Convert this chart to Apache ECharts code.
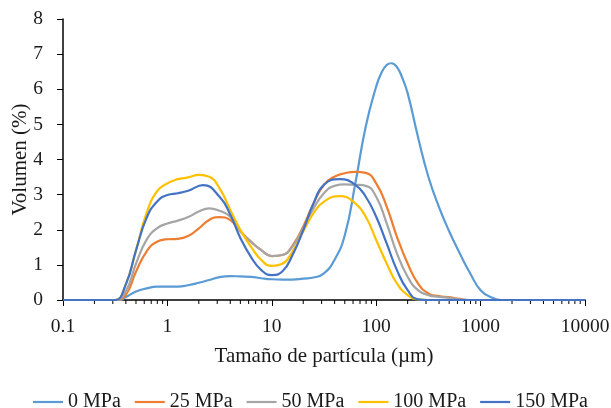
<!DOCTYPE html>
<html>
<head>
<meta charset="utf-8">
<script src="https://cdn.jsdelivr.net/npm/echarts@6/dist/echarts.min.js"></script>
<style>
html,body{margin:0;padding:0;background:#fff;}
#chart{width:611px;height:408px;}
</style>
</head>
<body>
<div id="chart"></div>
<script>
const seriesNames = ['0 MPa', '25 MPa', '50 MPa', '100 MPa', '150 MPa'];
const seriesColors = ['#5B9BD5', '#ED7D31', '#A5A5A5', '#FFC000', '#4472C4'];
const xTickLabels = ['0.1', '1', '10', '100', '1000', '10000'];
const yTickLabels = ['0','1','2','3','4','5','6','7','8'];

// particle sizes (µm) and volume (%) per series
const size0 = [0.1, 0.2, 0.3, 0.35, 0.398, 0.501, 0.631, 0.794, 1.0, 1.26, 1.58, 2.0, 2.51, 3.16, 3.98, 5.01, 6.31, 7.94, 10, 12.6, 15.8, 20, 25.1, 31.6, 39.8, 50.1, 63.1, 79.4, 100, 112, 126, 140, 158, 178, 200, 251, 316, 398, 501, 631, 794, 1000, 1259, 1585, 2000, 10000];
const vol0  = [0, 0, 0, 0, 0.08, 0.24, 0.33, 0.38, 0.38, 0.38, 0.42, 0.49, 0.57, 0.65, 0.68, 0.67, 0.66, 0.62, 0.59, 0.58, 0.58, 0.61, 0.64, 0.76, 1.14, 1.85, 3.32, 4.94, 6.08, 6.46, 6.69, 6.74, 6.63, 6.32, 5.89, 4.65, 3.51, 2.66, 1.95, 1.33, 0.76, 0.28, 0.08, 0, 0, 0];

const size25 = [0.1, 0.2, 0.25, 0.316, 0.398, 0.501, 0.631, 0.794, 1.0, 1.26, 1.58, 2.0, 2.51, 3.16, 3.98, 5.01, 6.31, 7.94, 10, 12.6, 15.8, 20, 25.1, 31.6, 39.8, 50.1, 63.1, 79.4, 100, 126, 158, 200, 251, 316, 398, 501, 631, 794, 1000, 10000];
const vol25  = [0, 0, 0, 0, 0.14, 0.81, 1.38, 1.66, 1.73, 1.74, 1.82, 2.04, 2.28, 2.36, 2.28, 1.95, 1.66, 1.42, 1.25, 1.28, 1.55, 2.09, 2.75, 3.28, 3.51, 3.61, 3.65, 3.62, 3.32, 2.66, 1.8, 1.04, 0.47, 0.19, 0.11, 0.08, 0.03, 0, 0, 0];

const size50 = [0.1, 0.2, 0.25, 0.316, 0.398, 0.501, 0.631, 0.794, 1.0, 1.26, 1.58, 2.0, 2.51, 3.16, 3.98, 5.01, 6.31, 7.94, 10, 12.6, 15.8, 20, 25.1, 31.6, 39.8, 50.1, 63.1, 79.4, 100, 126, 158, 200, 251, 316, 398, 501, 631, 794, 1000, 10000];
const vol50  = [0, 0, 0, 0, 0.24, 1.04, 1.71, 2.04, 2.18, 2.26, 2.36, 2.52, 2.61, 2.54, 2.38, 1.95, 1.66, 1.42, 1.25, 1.28, 1.52, 2.04, 2.61, 3.04, 3.25, 3.29, 3.28, 3.25, 2.94, 2.18, 1.33, 0.66, 0.28, 0.14, 0.09, 0.06, 0.02, 0, 0, 0];

const size100 = [0.1, 0.2, 0.25, 0.316, 0.398, 0.501, 0.631, 0.794, 1.0, 1.26, 1.58, 2.0, 2.51, 3.16, 3.98, 5.01, 6.31, 7.94, 10, 12.6, 15.8, 20, 25.1, 31.6, 44.7, 63.1, 79.4, 100, 126, 158, 200, 251, 316, 398, 10000];
const vol100  = [0, 0, 0, 0, 0.43, 1.42, 2.47, 3.09, 3.32, 3.44, 3.49, 3.56, 3.51, 3.18, 2.58, 1.99, 1.52, 1.14, 0.97, 1.03, 1.38, 1.95, 2.47, 2.8, 2.96, 2.75, 2.37, 1.71, 1.04, 0.47, 0.14, 0.02, 0, 0, 0];

const size150 = [0.1, 0.2, 0.25, 0.316, 0.398, 0.501, 0.631, 0.794, 1.0, 1.26, 1.58, 2.2, 3.16, 3.98, 5.01, 6.31, 7.94, 10, 12.6, 15.8, 20, 25.1, 31.6, 44.7, 63.1, 79.4, 100, 126, 158, 200, 251, 316, 398, 10000];
const vol150  = [0, 0, 0, 0, 0.43, 1.42, 2.33, 2.8, 2.99, 3.04, 3.11, 3.27, 2.94, 2.45, 1.76, 1.23, 0.85, 0.71, 0.81, 1.28, 1.99, 2.75, 3.28, 3.44, 3.28, 2.94, 2.37, 1.61, 0.85, 0.28, 0.02, 0, 0, 0];

const sizes = [size0, size25, size50, size100, size150];
const values = [vol0, vol25, vol50, vol100, vol150];

// minor tick positions on the log axis (2..9 within each decade)
const minorTicks = [];
for (let d = 0.1; d < 10000; d *= 10) {
  for (let m = 2; m <= 9; m++) minorTicks.push(+(d * m).toPrecision(3));
}

const font = "'Liberation Serif', 'Times New Roman', serif";
const textColor = '#1a1a1a';
const chart = echarts.init(document.getElementById('chart'));
chart.setOption({
  animation: false,
  textStyle: { fontFamily: font },
  grid: { left: 63, right: 26, top: 19, bottom: 108, containLabel: false, outerBoundsMode: 'none' },
  legend: {
    left: 28, top: 387, width: 590,
    itemWidth: 30, itemHeight: 14, itemGap: 14,
    textStyle: { fontFamily: font, fontSize: 20, color: textColor },
    data: seriesNames.map(n => ({ name: n, icon: 'path://M0,0L30,0L30,2.2L0,2.2Z' }))
  },
  xAxis: {
    type: 'log', min: 0.1, max: 10000, logBase: 10,
    name: 'Tamaño de partícula (µm)', nameLocation: 'middle', nameGap: 46,
    nameTextStyle: { fontFamily: font, fontSize: 21, color: textColor },
    axisLine: { lineStyle: { color: '#000', width: 1.5 } },
    axisTick: { show: true, length: 6, lineStyle: { color: '#000' } },
    minorTick: { show: false },
    axisLabel: { fontFamily: font, fontSize: 19.5, color: textColor, margin: 17,
      formatter: v => { const i = Math.round(Math.log10(v)) + 1; return xTickLabels[i] !== undefined ? xTickLabels[i] : ''; } },
    splitLine: { show: false }
  },
  yAxis: {
    type: 'value', min: 0, max: 8, interval: 1,
    name: 'Volumen (%)', nameLocation: 'middle', nameGap: 32, nameMoveOverlap: false,
    nameTextStyle: { fontFamily: font, fontSize: 21, color: textColor },
    axisLine: { show: true, lineStyle: { color: '#000', width: 1.5 } },
    axisTick: { show: true, length: 6, lineStyle: { color: '#000' } },
    axisLabel: { fontFamily: font, fontSize: 19.5, color: textColor, margin: 20,
      formatter: v => yTickLabels[Math.round(v)] },
    splitLine: { show: false }
  },
  series: [{
    name: 'minorTicks', type: 'custom', silent: true, clip: false, z: 1,
    data: minorTicks.map(v => [v, 0]),
    renderItem: (params, api) => {
      const p = api.coord([api.value(0), 0]);
      return { type: 'line', shape: { x1: p[0], y1: p[1], x2: p[0], y2: p[1] + 4 }, style: { stroke: '#000', lineWidth: 1 } };
    }
  }].concat(seriesNames.map((n, i) => ({
    name: n, type: 'line', smooth: 0.5, symbol: 'none', z: 3,
    color: seriesColors[i],
    lineStyle: { width: 2.2, color: seriesColors[i] },
    data: sizes[i].map((x, j) => [x, values[i][j]])
  })))
});
</script>
</body>
</html>
